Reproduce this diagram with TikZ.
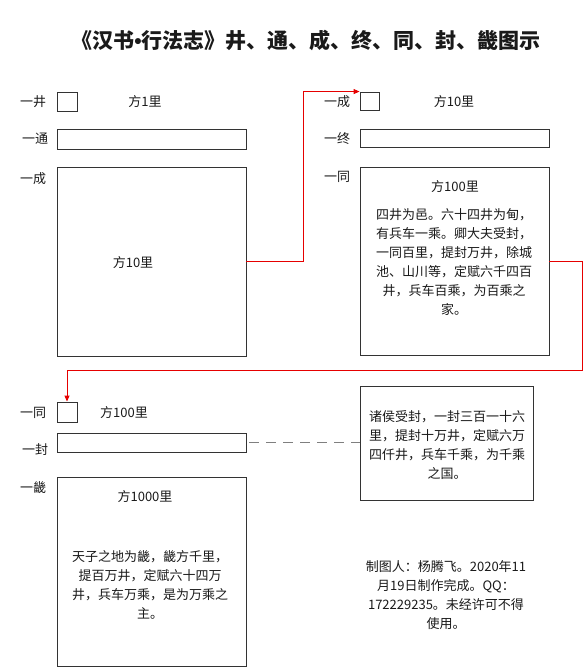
\documentclass[tikz,border=0pt]{standalone}
\usepackage{fontspec}
\setmainfont{Noto Sans CJK SC}
\newfontfamily\latinsans{Liberation Sans}
\usetikzlibrary{arrows.meta}
\definecolor{boxline}{HTML}{333333}
\definecolor{txt}{HTML}{1A1A1A}
\definecolor{linkred}{HTML}{E60000}
\definecolor{dashgray}{HTML}{7F7F7F}
\tikzset{
  box/.style={draw=boxline, line width=0.9pt, inner sep=0pt, fill=white},
  lbl/.style={inner sep=0pt, text=txt, font=\fontsize{13}{19}\selectfont},
  body/.style={inner sep=0pt, text=txt, align=center, font=\fontsize{13}{19}\selectfont},
  redlink/.style={draw=linkred, line width=0.9pt, -{Triangle[length=6pt,width=5pt]}},
  dashlink/.style={draw=dashgray, line width=1.4pt, dash pattern=on 10pt off 7pt, dash phase=-3pt}
}
\begin{document}
\begin{tikzpicture}[x=1pt,y=-1pt]
\useasboundingbox[fill=white] (0,0) rectangle (586,667);
% title
\node[inner sep=0pt, text=txt, font=\fontsize{21}{24}\selectfont\bfseries] (title) at (306,40) {《汉书{\latinsans\bfseries•}行法志》井、通、成、终、同、封、畿图示};
% left top group
\node[lbl] (l1) at (33,102) {一井};
\node[box, minimum width=20, minimum height=19] (jing) at (67,101.5) {};
\node[lbl] (t1) at (145,102) {方1里};
\node[lbl] (l2) at (35,139) {一通};
\node[box, minimum width=189, minimum height=20] (tong1) at (151.5,139) {};
\node[lbl] (l3) at (33,179) {一成};
\node[box, minimum width=189, minimum height=189] (cheng) at (151.5,261.5) {};
\node[lbl] (t2) at (133,263) {方10里};
% right top group
\node[lbl] (r1) at (337,102) {一成};
\node[box, minimum width=19, minimum height=18] (cheng2) at (369.5,101) {};
\node[lbl] (t3) at (454,102) {方10里};
\node[lbl] (r2) at (337,139) {一终};
\node[box, minimum width=189, minimum height=18] (zhong) at (454.5,138) {};
\node[lbl] (r3) at (337,177) {一同};
\node[box, minimum width=189, minimum height=188] (tong) at (454.5,261) {};
\node[lbl] (t4) at (455,187) {方100里};
\node[body] (b1) at (454,262) {四井为邑。六十四井为甸，\\有兵车一乘。卿大夫受封，\\一同百里，提封万井，除城\\池、山川等，定赋六千四百\\井，兵车百乘，为百乘之\\家。};
% lower left group
\node[lbl] (d1) at (33,413) {一同};
\node[box, minimum width=20, minimum height=20] (tong2) at (67,412) {};
\node[lbl] (t5) at (124,413) {方100里};
\node[lbl] (d2) at (35,450) {一封};
\node[box, minimum width=189, minimum height=19] (feng) at (151.5,442.5) {};
\node[lbl] (d3) at (33,488) {一畿};
\node[box, minimum width=189, minimum height=189] (ji) at (151.5,571.5) {};
\node[lbl] (t6) at (145,497) {方1000里};
\node[body] (b2) at (150,585) {天子之地为畿，畿方千里，\\提百万井，定赋六十四万\\井，兵车万乘，是为万乘之\\主。};
% lower right
\node[box, minimum width=173, minimum height=114] (zhuhou) at (446.5,443) {};
\node[body] (b3) at (447,445.5) {诸侯受封，一封三百一十六\\里，提封十万井，定赋六万\\四仟井，兵车千乘，为千乘\\之国。};
\node[body] (credit) at (446,595) {制图人：杨腾飞。2020年11\\月19日制作完成。QQ：\\172229235。未经许可不得\\使用。};
% connectors
\draw[redlink] (cheng.east) -- ++(57,0) |- (cheng2.north west);
\draw[redlink] (tong.east) -- ++(33,0) -- ++(0,109) -| (tong2.north);
\draw[dashlink] (feng.east) -- (feng.east -| zhuhou.west);
\end{tikzpicture}
\end{document}
